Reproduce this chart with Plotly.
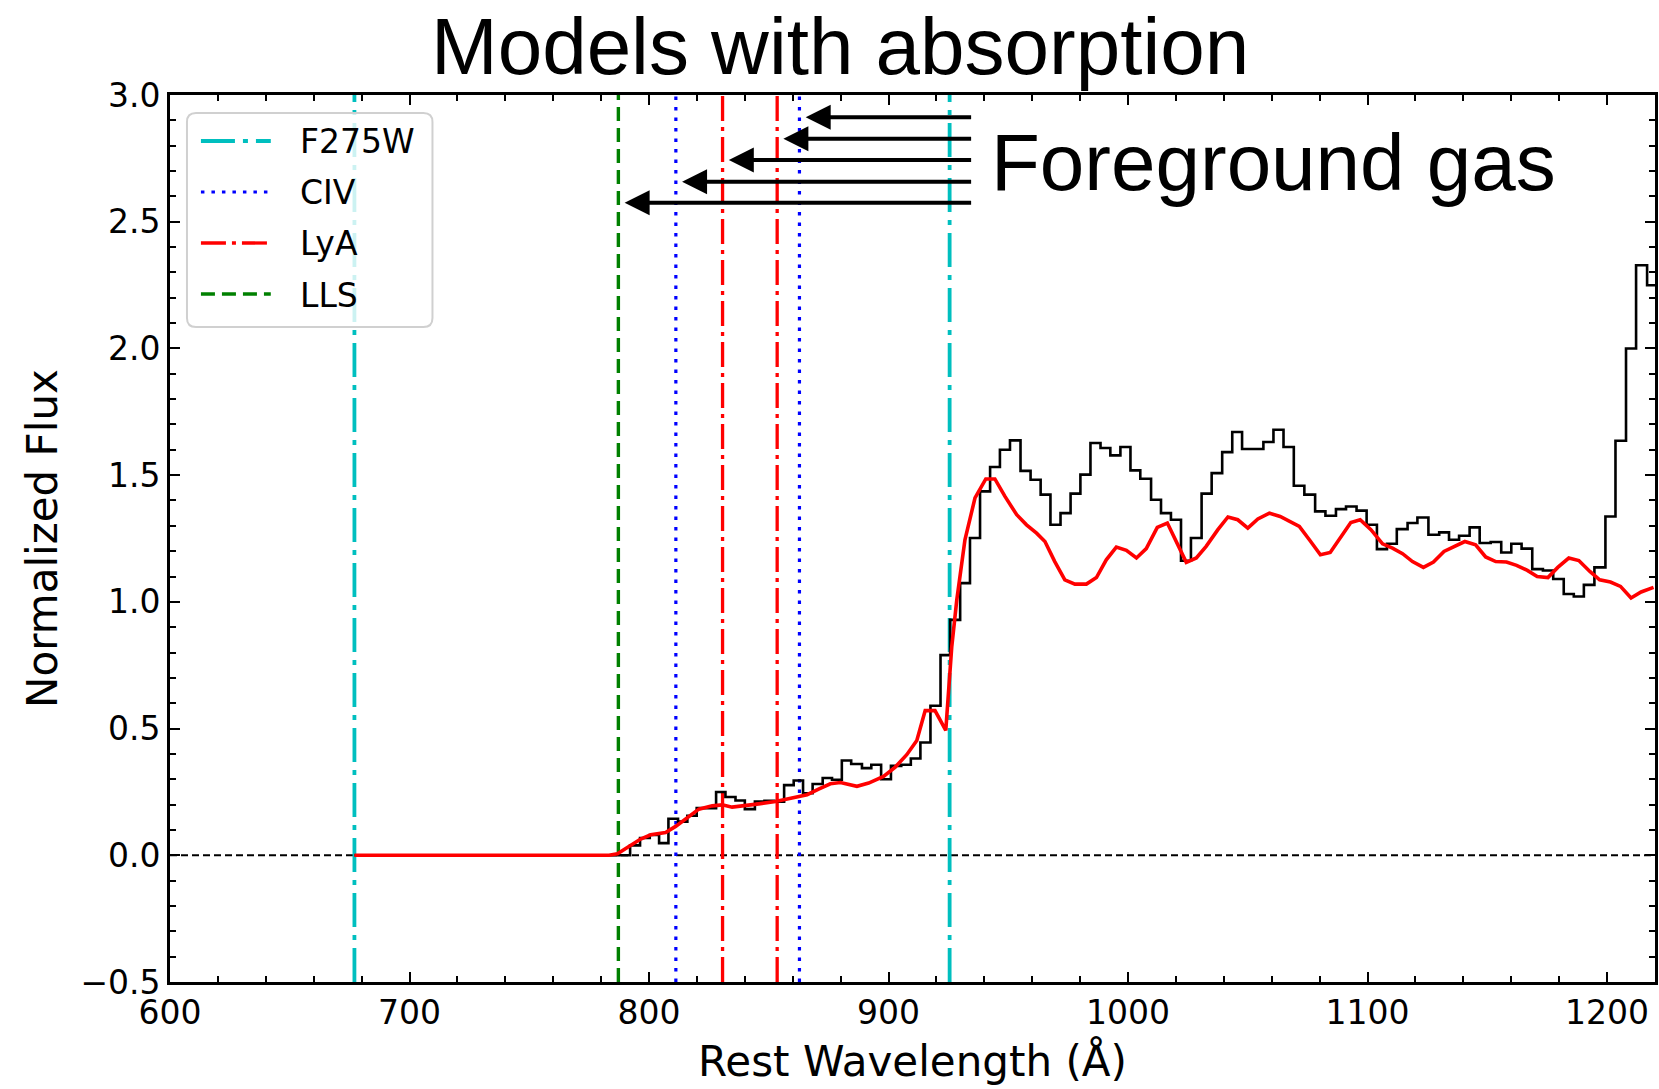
import plotly.graph_objects as go

# ---------------- data ----------------
# observed spectrum (step plot): left bin edges [Å] and normalized flux
obs_wave = [677.0, 792.1, 796.25, 800.3, 804.2, 808.1, 812.1, 816.0, 819.9, 824.0, 828.0, 831.9,
            836.1, 840.0, 844.2, 848.2, 852.2, 856.4, 860.4, 864.3, 868.3, 872.5, 876.4, 880.5,
            884.4, 888.9, 892.8, 896.9, 901.0, 905.3, 909.3, 913.3, 917.5, 921.7, 925.7, 929.9,
            934.0, 938.2, 942.4, 946.5, 950.7, 955.1, 959.3, 963.5, 967.6, 971.8, 976.0, 980.1,
            984.3, 988.5, 992.6, 996.8, 1001.0, 1005.1, 1009.6, 1013.75, 1017.9, 1022.1, 1026.25,
            1030.7, 1034.9, 1039.3, 1043.5, 1047.6, 1051.8, 1056.5, 1060.7, 1064.9, 1069.2,
            1073.6, 1078.1, 1082.4, 1086.8, 1091.0, 1095.4, 1099.6, 1103.9, 1108.1, 1112.2,
            1116.7, 1120.8, 1125.4, 1129.9, 1134.0, 1138.2, 1142.6, 1146.8, 1151.4, 1155.8,
            1160.0, 1164.3, 1168.75, 1173.2, 1177.5, 1181.9, 1186.1, 1190.3, 1194.7, 1199.3,
            1203.5, 1207.9, 1212.1, 1216.7]
obs_wave_end = 1221.0
obs_flux = [0.0, 0.039, 0.068, 0.08, 0.048, 0.144, 0.133, 0.156, 0.186, 0.186, 0.25, 0.23,
            0.216, 0.182, 0.212, 0.215, 0.211, 0.277, 0.295, 0.245, 0.281, 0.305, 0.298, 0.374,
            0.36, 0.344, 0.357, 0.30, 0.353, 0.357, 0.382, 0.445, 0.59, 0.79, 0.929, 1.074,
            1.252, 1.436, 1.532, 1.60, 1.637, 1.517, 1.482, 1.423, 1.304, 1.350, 1.427, 1.502,
            1.627, 1.607, 1.578, 1.611, 1.519, 1.486, 1.403, 1.350, 1.324, 1.162, 1.252,
            1.427, 1.508, 1.591, 1.670, 1.603, 1.603, 1.631, 1.679, 1.611, 1.458,
            1.423, 1.357, 1.340, 1.366, 1.376, 1.36, 1.304, 1.208, 1.229, 1.287,
            1.311, 1.333, 1.265, 1.274, 1.245, 1.261, 1.294, 1.232, 1.236, 1.195,
            1.229, 1.210, 1.129, 1.124, 1.090, 1.031, 1.021, 1.067, 1.136, 1.337,
            1.636, 2.0, 2.328, 2.249]

# model with absorption (smooth red curve)
mod_wave = [677.0, 783.3, 786.8, 792.4, 796.5, 800.7, 806.9, 811.1, 816.0, 820.8, 826.4, 830.6,
            834.7, 840.3, 845.8, 852.8, 859.7, 866.0, 870.8, 875.7, 879.9, 886.8, 891.7, 897.9,
            902.8, 907.6, 911.8, 915.3, 919.4, 923.9, 926.4, 928.5, 931.9, 936.1, 940.6, 944.4,
            948.6, 953.5, 957.6, 961.8, 965.3, 969.4, 973.6, 977.8, 982.6, 986.8, 990.9, 995.1,
            999.3, 1003.5, 1007.6, 1012.2, 1016.4, 1020.6, 1024.3, 1028.5, 1032.6, 1037.5,
            1041.7, 1045.8, 1050.0, 1054.2, 1059.0, 1063.5, 1066.7, 1071.5, 1075.7, 1080.3,
            1084.4, 1088.9, 1093.0, 1096.9, 1101.4, 1106.25, 1110.4, 1114.6, 1118.75, 1123.3,
            1127.5, 1131.9, 1136.1, 1140.6, 1145.1, 1149.3, 1153.5, 1158.0, 1162.2, 1166.7,
            1170.8, 1175.3, 1179.4, 1184.0, 1188.2, 1192.8, 1196.9, 1201.4, 1205.6, 1210.0,
            1214.2, 1219.4]
mod_flux = [0.0, 0.0, 0.006, 0.041, 0.064, 0.081, 0.09, 0.114, 0.147, 0.182, 0.195, 0.199,
            0.19, 0.195, 0.203, 0.212, 0.226, 0.239, 0.261, 0.282, 0.287, 0.272, 0.285, 0.311,
            0.348, 0.397, 0.453, 0.571, 0.571, 0.493, 0.824, 1.008, 1.245, 1.41, 1.485, 1.485,
            1.416, 1.344, 1.304, 1.271, 1.238, 1.159, 1.087, 1.07, 1.07, 1.096, 1.166, 1.216,
            1.203, 1.173, 1.21, 1.294, 1.311, 1.232, 1.156, 1.173, 1.219, 1.285,
            1.335, 1.324, 1.291, 1.327, 1.350, 1.337, 1.321, 1.298, 1.245, 1.186,
            1.195, 1.256, 1.313, 1.324, 1.285, 1.229, 1.212, 1.19, 1.159, 1.136,
            1.157, 1.199, 1.219, 1.238, 1.225, 1.177, 1.159, 1.157, 1.144, 1.124,
            1.10, 1.096, 1.136, 1.173, 1.163, 1.12, 1.087, 1.078, 1.061, 1.015,
            1.039, 1.057]

# marker wavelengths [Å]
f275w_lines = [677.0, 925.5]
civ_lines = [811.2, 862.8]
lya_lines = [830.7, 853.5]
lls_lines = [787.2]

# foreground-gas arrows: (target line wavelength, flux level), top to bottom
arrow_targets = [862.8, 853.5, 830.7, 811.2, 787.2]
arrow_levels = [2.912, 2.827, 2.744, 2.658, 2.575]
arrow_tail = 935.1

legend_names = ["F275W", "CIV", "LyA", "LLS"]

assert len(obs_wave) == len(obs_flux)
assert len(mod_wave) == len(mod_flux)

# ---------------- geometry ----------------
W, H = 1659, 1089
L, R, T, B = 170, 1, 95, 107
PW, PH = W - L - R, H - T - B


def fx(px):
    return (px - L) / PW


def fy(py):
    return (H - B - py) / PH


XMIN, XMAX = 600, 1220
YMIN, YMAX = -0.5, 3.0

styles = {
    "F275W": dict(color="#00BFBF", width=3.8, dash="34px,8px,5px,8px"),
    "CIV": dict(color="#0000FF", width=3.2, dash="3.5px,7px"),
    "LyA": dict(color="#FF0000", width=3.3, dash="25px,6px,4px,6px"),
    "LLS": dict(color="#008000", width=3.4, dash="14px,7px"),
}
line_sets = {"F275W": f275w_lines, "CIV": civ_lines, "LyA": lya_lines, "LLS": lls_lines}

fig = go.Figure()

shapes = []
# zero line
shapes.append(dict(type="line", xref="paper", yref="y", x0=0, x1=1, y0=0, y1=0,
                   line=dict(color="black", width=2, dash="7px,4px"), layer="below"))
# vertical marker lines
for name, vals in line_sets.items():
    for v in vals:
        shapes.append(dict(type="line", xref="x", yref="paper", x0=v, x1=v, y0=0, y1=1,
                           line=styles[name], layer="below"))

# data
fig.add_trace(go.Scatter(x=obs_wave + [obs_wave_end], y=obs_flux + [obs_flux[-1]],
                         mode="lines", line=dict(color="black", width=2.6, shape="hv"),
                         showlegend=False, name="Observed"))
fig.add_trace(go.Scatter(x=mod_wave, y=mod_flux, mode="lines",
                         line=dict(color="#FF0000", width=3.6), showlegend=False,
                         name="Model"))

# legend box (rounded) drawn on top
lx0, lx1, ly0, ly1 = 187, 433, 113, 327
rad = 9
rx, ry = rad / PW, rad / PH
X0, X1, Y0, Y1 = fx(lx0), fx(lx1), fy(ly1), fy(ly0)
path = (f"M {X0+rx},{Y0} L {X1-rx},{Y0} Q {X1},{Y0} {X1},{Y0+ry} "
        f"L {X1},{Y1-ry} Q {X1},{Y1} {X1-rx},{Y1} L {X0+rx},{Y1} Q {X0},{Y1} {X0},{Y1-ry} "
        f"L {X0},{Y0+ry} Q {X0},{Y0} {X0+rx},{Y0} Z")
shapes.append(dict(type="path", xref="paper", yref="paper", path=path,
                   fillcolor="rgba(255,255,255,0.8)", line=dict(color="#D0D0D0", width=2),
                   layer="above"))

annotations = []
entry_y = [141, 192, 243, 294]
for name, py in zip(legend_names, entry_y):
    shapes.append(dict(type="line", xref="paper", yref="paper", x0=fx(201), x1=fx(271),
                       y0=fy(py), y1=fy(py), line=styles[name], layer="above"))
    annotations.append(dict(xref="paper", yref="paper", x=fx(298), y=fy(py + 1), text=name,
                            showarrow=False, xanchor="left", yanchor="middle",
                            font=dict(family="DejaVu Sans", size=33, color="black")))

# arrows
for tgt, lev in zip(arrow_targets, arrow_levels):
    annotations.append(dict(x=tgt + 2.6, y=lev, xref="x", yref="y", ax=arrow_tail, ay=lev,
                            axref="x", ayref="y", showarrow=True, arrowhead=2,
                            arrowsize=1.25, arrowwidth=4, arrowcolor="black", text="",
                            standoff=0))

annotations.append(dict(x=942.1, y=2.735, xref="x", yref="y", text="Foreground gas",
                        showarrow=False, xanchor="left", yanchor="middle",
                        font=dict(family="Liberation Sans", size=80, color="black")))

annotations.append(dict(x=fx(841), y=fy(47), xref="paper", yref="paper",
                        text="Models with absorption", showarrow=False, xanchor="center",
                        yanchor="middle",
                        font=dict(family="Liberation Sans", size=80, color="black")))

axis_common = dict(showline=True, linecolor="black", linewidth=2.6, mirror="ticks",
                   ticks="inside", ticklen=10, tickwidth=2, tickcolor="black",
                   showgrid=False, zeroline=False,
                   tickfont=dict(family="DejaVu Sans", size=33, color="black"))

fig.update_layout(
    width=W, height=H,
    margin=dict(l=L, r=R, t=T, b=B),
    paper_bgcolor="white", plot_bgcolor="white",
    shapes=shapes, annotations=annotations,
    xaxis=dict(range=[XMIN, XMAX], tickvals=[600, 700, 800, 900, 1000, 1100, 1200],
               minor=dict(dtick=20, tick0=600, ticks="inside", ticklen=6, tickwidth=1.5,
                          tickcolor="black", showgrid=False),
               title=dict(text="Rest Wavelength (Å)", standoff=16,
                          font=dict(family="DejaVu Sans", size=42, color="black")),
               **axis_common),
    yaxis=dict(range=[YMIN, YMAX], tickvals=[-0.5, 0, 0.5, 1.0, 1.5, 2.0, 2.5, 3.0],
               tickformat=".1f",
               minor=dict(dtick=0.1, tick0=0, ticks="inside", ticklen=6, tickwidth=1.5,
                          tickcolor="black", showgrid=False),
               title=dict(text="Normalized Flux", standoff=10,
                          font=dict(family="DejaVu Sans", size=42, color="black")),
               **axis_common),
    showlegend=False,
)

fig.write_html("out.html")
